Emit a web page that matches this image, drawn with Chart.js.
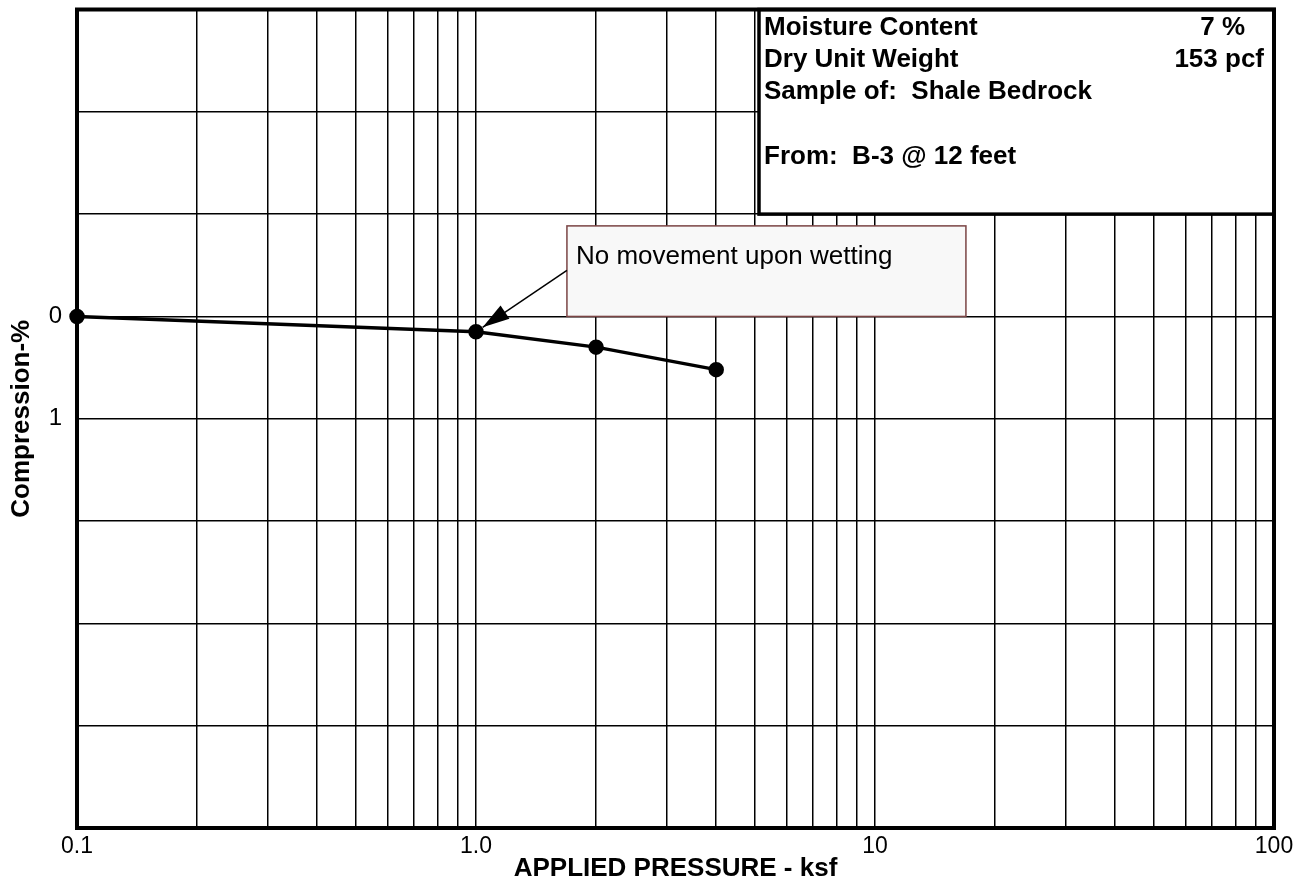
<!DOCTYPE html>
<html>
<head>
<meta charset="utf-8">
<script src="https://cdn.jsdelivr.net/npm/chart.js@4/dist/chart.umd.min.js"></script>
<style>
  html, body { margin: 0; padding: 0; background: #ffffff; }
  #wrap { position: relative; width: 1301px; height: 884px; }
</style>
</head>
<body>
<div id="wrap"><canvas id="c" width="1301" height="884"></canvas></div>
<script>
// ---- Data ----
const pressures = [0.1, 1.0, 2.0, 4.0];          // ksf
const compression = [0.0, 0.15, 0.30, 0.52];      // %
const xGridValues = [0.1,0.2,0.3,0.4,0.5,0.6,0.7,0.8,0.9,1,2,3,4,5,6,7,8,9,10,20,30,40,50,60,70,80,90,100];
const xTickLabels = { 0.1: '0.1', 1: '1.0', 10: '10', 100: '100' };
const yTickLabels = { 0: '0', 1: '1' };
const infoLeft = ['Moisture Content', 'Dry Unit Weight', 'Sample of:  Shale Bedrock', '', 'From:  B-3 @ 12 feet'];
const infoRight = ['7 %', '153 pcf', '', '', ''];
const noteText = 'No movement upon wetting';

// ---- Annotation placement (in data units) ----
const infoBox = { x0: 5.12, x1: 100, y0: -3, y1: -1.0 };
const noteBox = { x0: 1.69, x1: 16.9, y0: -0.885, y1: 0 };
const noteArrowFromY = -0.45;
const noteArrowTarget = 1; // index of point

const FONT = "'Liberation Sans', Arial, Helvetica, sans-serif";

const overlay = {
  id: 'overlay',
  beforeDatasetsDraw(chart) {
    const ctx = chart.ctx, xs = chart.scales.x, ys = chart.scales.y;
    ctx.save();
    // info box
    const ix0 = xs.getPixelForValue(infoBox.x0), ix1 = xs.getPixelForValue(infoBox.x1);
    const iy0 = ys.getPixelForValue(infoBox.y0), iy1 = ys.getPixelForValue(infoBox.y1);
    ctx.fillStyle = '#ffffff';
    ctx.fillRect(ix0, iy0, ix1 - ix0, iy1 - iy0);
    ctx.strokeStyle = '#000';
    ctx.lineWidth = 3.5;
    ctx.strokeRect(ix0, iy0, ix1 - ix0, iy1 - iy0);
    ctx.fillStyle = '#000';
    ctx.font = 'bold 26px ' + FONT;
    ctx.textBaseline = 'alphabetic';
    for (let i = 0; i < infoLeft.length; i++) {
      const by = iy0 + 25 + i * 32.4;
      ctx.textAlign = 'left';
      if (infoLeft[i]) ctx.fillText(infoLeft[i], ix0 + 5, by);
    }
    ctx.textAlign = 'right';
    ctx.fillText(infoRight[0], ix1 - 29, iy0 + 25);
    ctx.fillText(infoRight[1], ix1 - 10, iy0 + 25 + 32.4);

    // note box
    const nx0 = xs.getPixelForValue(noteBox.x0), nx1 = xs.getPixelForValue(noteBox.x1);
    const ny0 = ys.getPixelForValue(noteBox.y0), ny1 = ys.getPixelForValue(noteBox.y1);
    ctx.fillStyle = '#f8f8f8';
    ctx.fillRect(nx0, ny0, nx1 - nx0, ny1 - ny0);
    ctx.strokeStyle = '#7a4444';
    ctx.lineWidth = 1.5;
    ctx.strokeRect(nx0, ny0, nx1 - nx0, ny1 - ny0);
    ctx.fillStyle = '#000';
    ctx.font = '26px ' + FONT;
    ctx.textAlign = 'left';
    ctx.fillText(noteText, nx0 + 9, ny0 + 38);
    ctx.restore();
  },
  afterDatasetsDraw(chart) {
    const ctx = chart.ctx, xs = chart.scales.x, ys = chart.scales.y;
    const ca = chart.chartArea;
    ctx.save();
    // arrow
    const sx = xs.getPixelForValue(noteBox.x0), sy = ys.getPixelForValue(noteArrowFromY);
    const px = xs.getPixelForValue(pressures[noteArrowTarget]);
    const py = ys.getPixelForValue(compression[noteArrowTarget]);
    const ang = Math.atan2(sy - py, sx - px);
    const tx = px + Math.cos(ang) * 8, ty = py + Math.sin(ang) * 8;
    ctx.strokeStyle = '#000';
    ctx.lineWidth = 1.5;
    ctx.beginPath(); ctx.moveTo(sx, sy); ctx.lineTo(tx, ty); ctx.stroke();
    const L = 27, W = 8;
    const bx = tx + Math.cos(ang) * L, by = ty + Math.sin(ang) * L;
    ctx.fillStyle = '#000';
    ctx.beginPath();
    ctx.moveTo(tx, ty);
    ctx.lineTo(bx + Math.cos(ang + Math.PI / 2) * W, by + Math.sin(ang + Math.PI / 2) * W);
    ctx.lineTo(bx - Math.cos(ang + Math.PI / 2) * W, by - Math.sin(ang + Math.PI / 2) * W);
    ctx.closePath(); ctx.fill();
    // frame
    ctx.strokeStyle = '#000';
    ctx.lineWidth = 4;
    ctx.strokeRect(ca.left, ca.top, ca.right - ca.left, ca.bottom - ca.top);
    ctx.restore();
  }
};

new Chart(document.getElementById('c'), {
  type: 'line',
  data: {
    datasets: [{
      data: pressures.map((p, i) => ({ x: p, y: compression[i] })),
      borderColor: '#000',
      backgroundColor: '#000',
      borderWidth: 3.5,
      pointRadius: 6,
      pointBackgroundColor: '#000',
      pointBorderColor: '#000',
      tension: 0,
      clip: false
    }]
  },
  plugins: [overlay],
  options: {
    responsive: false,
    animation: false,
    devicePixelRatio: 1,
    layout: { padding: { top: 8, right: 27, left: 0, bottom: 0 } },
    plugins: { legend: { display: false }, tooltip: { enabled: false }, title: { display: false } },
    scales: {
      x: {
        type: 'logarithmic',
        min: 0.1, max: 100,
        afterBuildTicks(scale) { scale.ticks = xGridValues.map(v => ({ value: v })); },
        afterFit(scale) { scale.height = 56; scale.paddingLeft = 0; scale.paddingRight = 0; },
        grid: { color: '#000', lineWidth: 1.5, drawTicks: false },
        border: { display: false },
        ticks: {
          autoSkip: false, maxRotation: 0, minRotation: 0, padding: 5,
          color: '#000', font: { family: FONT, size: 23 },
          callback(v) { return xTickLabels[v] !== undefined ? xTickLabels[v] : ''; }
        },
        title: {
          display: true, text: 'APPLIED PRESSURE - ksf', color: '#000',
          font: { family: FONT, size: 26, weight: 'bold' }, padding: { top: 0, bottom: 0 }
        }
      },
      y: {
        type: 'linear',
        min: -3, max: 5, reverse: true,
        afterFit(scale) { scale.width = 77; scale.paddingTop = 0; scale.paddingBottom = 0; },
        grid: { color: '#000', lineWidth: 1.5, drawTicks: false },
        border: { display: false },
        ticks: {
          stepSize: 1, padding: 15, color: '#000', font: { family: FONT, size: 24 },
          callback(v) { return yTickLabels[v] !== undefined ? yTickLabels[v] : ''; }
        },
        title: {
          display: true, text: 'Compression-%', color: '#000',
          font: { family: FONT, size: 26, weight: 'bold' }, padding: { top: 6, bottom: 0 }
        }
      }
    }
  }
});
</script>
</body>
</html>
